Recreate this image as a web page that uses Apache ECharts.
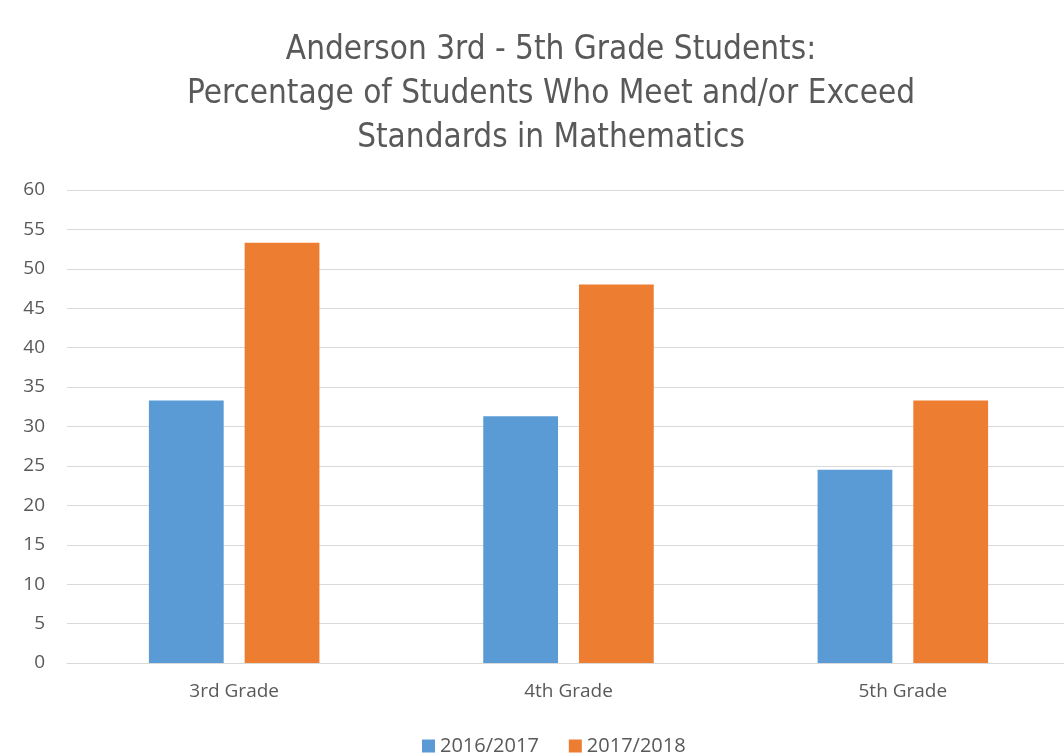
<!DOCTYPE html>
<html>
<head>
<meta charset="utf-8">
<script src="https://cdn.jsdelivr.net/npm/echarts@6/dist/echarts.min.js"></script>
<style>
  html, body { margin: 0; padding: 0; background: #ffffff; overflow: hidden; }
  #chart { width: 1080px; height: 756px; }
</style>
</head>
<body>
<div id="chart"></div>
<script>
const titleLines = [
  'Anderson 3rd - 5th Grade Students:',
  'Percentage of Students Who Meet and/or Exceed',
  'Standards in Mathematics'
];
const categories = ['3rd Grade', '4th Grade', '5th Grade'];
const seriesNames = ['2016/2017', '2017/2018'];
const values2016 = [33.3, 31.3, 24.5];
const values2018 = [53.3, 48.0, 33.3];
const yTicks = { min: 0, max: 60, interval: 5 };

const chart = echarts.init(document.getElementById('chart'), null, { renderer: 'canvas' });
const textColor = '#595959';
const labelFont = '"Open Sans", "Noto Sans", sans-serif';

chart.setOption({
  animation: false,
  backgroundColor: '#ffffff',
  title: {
    text: titleLines.join('\n'),
    left: 546,
    textAlign: 'center',
    top: 23,
    textStyle: {
      color: textColor,
      fontFamily: '"Liberation Sans Narrow", "DejaVu Sans Condensed", sans-serif',
      fontWeight: 'normal',
      fontSize: 33,
      lineHeight: 44
    }
  },
  legend: {
    data: seriesNames,
    bottom: -5,
    left: 417,
    itemWidth: 13,
    itemHeight: 13,
    itemGap: 30,
    icon: 'rect',
    textStyle: { color: textColor, fontSize: 20, fontFamily: labelFont }
  },
  grid: { left: 67, right: 10, top: 190, bottom: 93, containLabel: false },
  xAxis: {
    type: 'category',
    data: categories,
    axisLine: { show: true, lineStyle: { color: '#d9d9d9', width: 1 } },
    axisTick: { show: false },
    axisLabel: { color: textColor, fontSize: 19, fontFamily: labelFont, margin: 19 }
  },
  yAxis: {
    type: 'value',
    min: yTicks.min,
    max: yTicks.max,
    interval: yTicks.interval,
    axisLine: { show: false },
    axisTick: { show: false },
    axisLabel: { color: textColor, fontSize: 19, fontFamily: labelFont, margin: 22 },
    splitLine: { lineStyle: { color: '#d9d9d9', width: 1 } }
  },
  series: [
    {
      name: seriesNames[0],
      type: 'bar',
      data: values2016,
      barGap: '28%',
      barCategoryGap: '49%',
      itemStyle: { color: '#5b9bd5' }
    },
    {
      name: seriesNames[1],
      type: 'bar',
      data: values2018,
      barGap: '28%',
      barCategoryGap: '49%',
      itemStyle: { color: '#ed7d31' }
    }
  ]
});
</script>
</body>
</html>
